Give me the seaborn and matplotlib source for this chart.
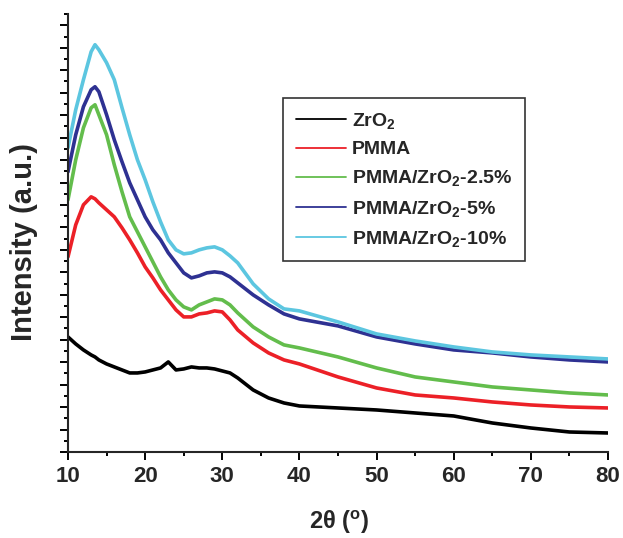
import numpy as np
import pandas as pd
import matplotlib
matplotlib.use("Agg")
import matplotlib.pyplot as plt
from matplotlib.lines import Line2D
from matplotlib.ticker import MultipleLocator
import seaborn as sns

# ---- data (arbitrary intensity units) ----
two_theta = [10, 11, 12, 13, 13.5, 14, 15, 16, 17, 18, 19, 20, 21, 22, 23, 24, 25, 26,
             27, 28, 29, 30, 31, 32, 34, 36, 38, 40, 45, 50, 55, 60, 65, 70, 75, 80]

zro2 = [115, 108, 102, 97, 95, 92, 88, 85, 82, 79, 79, 80, 82, 84, 90, 82, 83, 85,
        84, 84, 83, 81, 79, 74, 62, 54, 49, 46, 44, 42, 39, 36, 29, 24, 20, 19]
pmma = [195, 227, 247, 255, 253, 249, 242, 235, 224, 212, 199, 185, 174, 162, 152, 142, 135, 135,
        138, 139, 141, 140, 132, 122, 109, 99, 92, 88, 75, 64, 57, 54, 50, 47, 45, 44]
pmma_25 = [252, 292, 324, 344, 347, 337, 317, 287, 260, 235, 220, 205, 190, 175, 162, 152, 145, 142,
           147, 150, 153, 152, 147, 139, 125, 115, 107, 104, 95, 84, 75, 70, 65, 62, 59, 57]
pmma_5 = [280, 317, 345, 362, 365, 360, 337, 312, 290, 269, 252, 235, 222, 212, 199, 189, 179, 174,
          176, 179, 180, 179, 175, 169, 157, 147, 138, 133, 126, 115, 108, 102, 99, 95, 92, 90]
pmma_10 = [304, 342, 372, 400, 407, 402, 389, 372, 344, 317, 292, 272, 250, 230, 212, 202, 198, 199,
           202, 204, 205, 202, 196, 189, 168, 153, 143, 141, 130, 118, 111, 105, 100, 97, 95, 93]

series_names = ["ZrO$_2$", "PMMA", "PMMA/ZrO$_2$-2.5%", "PMMA/ZrO$_2$-5%", "PMMA/ZrO$_2$-10%"]
series_values = [zro2, pmma, pmma_25, pmma_5, pmma_10]
colors = ["#000000", "#ec2027", "#63bd4c", "#2e3192", "#5cc6e0"]
x_ticks = [10, 20, 30, 40, 50, 60, 70, 80]

df = pd.concat(
    [pd.DataFrame({"two_theta": two_theta, "intensity": v, "sample": n})
     for n, v in zip(series_names, series_values)],
    ignore_index=True)

# ---- style ----
sns.set_style("ticks")
plt.rcParams["font.family"] = ["Liberation Sans", "DejaVu Sans"]
plt.rcParams["font.weight"] = "bold"
plt.rcParams["mathtext.fontset"] = "custom"
plt.rcParams["mathtext.rm"] = "Liberation Sans"
plt.rcParams["mathtext.bf"] = "Liberation Sans:bold"
plt.rcParams["mathtext.it"] = "Liberation Sans:bold"
plt.rcParams["mathtext.default"] = "bf"

fig = plt.figure(figsize=(6.23, 5.38), dpi=100)
ax = fig.add_axes([68 / 623, 1 - 452 / 538, 540 / 623, 438 / 538])

sns.lineplot(data=df, x="two_theta", y="intensity", hue="sample",
             hue_order=series_names, palette=colors, linewidth=2.6,
             legend=False, ax=ax, sort=True)

ax.set_xlim(10, 80)
ax.set_ylim(0, 437.7)
ax.set_xticks(x_ticks)
ax.xaxis.set_minor_locator(MultipleLocator(5))
ax.yaxis.set_major_locator(MultipleLocator(22.44))
ax.yaxis.set_minor_locator(MultipleLocator(11.22))
ax.set_yticklabels([])
ax.set_xlabel("")
ax.set_ylabel("")

for s in ["top", "right"]:
    ax.spines[s].set_visible(False)
for s in ["left", "bottom"]:
    ax.spines[s].set_linewidth(1.5)

ax.tick_params(axis="both", which="major", direction="out", length=6, width=1.4,
               color="black")
ax.tick_params(axis="both", which="minor", direction="out", length=3.2, width=1.4,
               color="black")
ax.tick_params(axis="x", which="major", labelsize=16, pad=4)
for lbl in ax.get_xticklabels():
    lbl.set_fontweight("bold")

fig.text(24 / 623, 1 - 242 / 538, "Intensity (a.u.)", rotation=90,
         ha="center", va="center", fontsize=21, fontweight="bold")
fig.text(339 / 623, 1 - 522 / 538, "2θ ($\\mathrm{^{o}}$)",
         ha="center", va="center", fontsize=17, fontweight="bold")

handles = [Line2D([0], [0], color=c, lw=1.3) for c in colors]
leg = ax.legend(handles, series_names, loc="upper left",
                bbox_to_anchor=(283 / 623, 1 - 98 / 538),
                bbox_transform=fig.transFigure, borderaxespad=0,
                frameon=True, fancybox=False,
                handlelength=2.6, handletextpad=0.3, labelspacing=0.52,
                borderpad=0.65, prop={"weight": "bold", "size": 14})
leg.get_frame().set_edgecolor("black")
leg.get_frame().set_linewidth(1.2)

fig.savefig("out.png", dpi=100, facecolor="white")
